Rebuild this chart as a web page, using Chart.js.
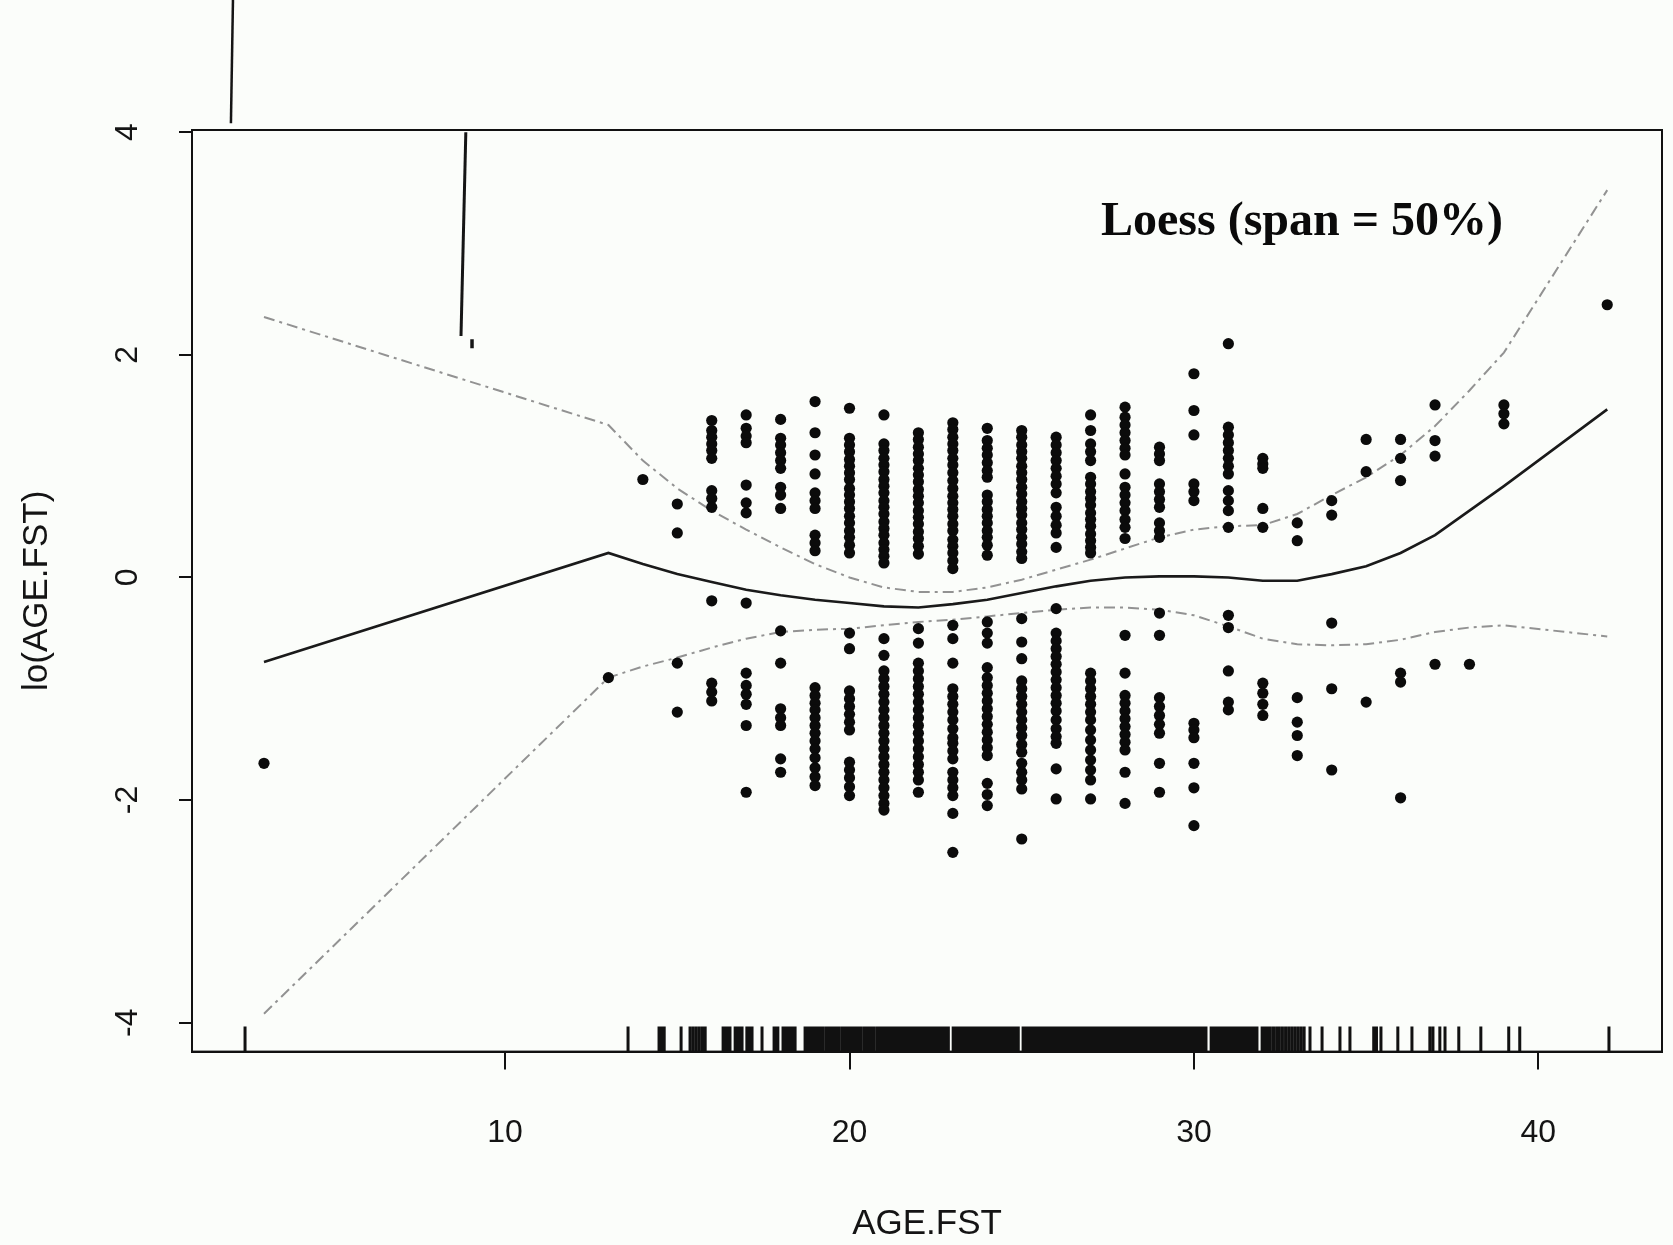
<!DOCTYPE html>
<html lang="en">
<head>
<meta charset="UTF-8">
<title>Loess (span = 50%)</title>
<script src="https://cdn.jsdelivr.net/npm/chart.js@4.4.1/dist/chart.umd.min.js"></script>
<style>
  html, body { margin: 0; padding: 0; background: #fbfdfa; }
  #wrap { width: 1673px; height: 1245px; }
</style>
</head>
<body>
<div id="wrap"><canvas id="myChart" width="1673" height="1245"></canvas></div>
<script>
// ages that carry observations (the loess curve and bands are evaluated at these too)
const ageLevels = [3, 13, 14, 15, 16, 17, 18, 19, 20, 21, 22, 23, 24, 25, 26, 27, 28, 29, 30, 31, 32, 33, 34, 35, 36, 37, 38, 39, 42];

// partial residuals, one list per age level
const residuals = [
  [-1.67],
  [-0.90],
  [0.88],
  [0.66, 0.40, -0.77, -1.21],
  [1.41, 1.32, 1.26, 1.20, 1.14, 1.07, 0.78, 0.71, 0.63, -0.21, -0.95, -1.03, -1.11],
  [1.46, 1.34, 1.27, 1.21, 0.83, 0.67, 0.58, -0.23, -0.86, -0.97, -1.05, -1.14, -1.33, -1.93],
  [1.42, 1.25, 1.19, 1.12, 1.05, 0.98, 0.81, 0.74, 0.62, -0.48, -0.77, -1.18, -1.26, -1.33, -1.63, -1.75],
  [1.58, 1.30, 1.10, 0.93, 0.76, 0.69, 0.62, 0.38, 0.31, 0.24, -0.99, -1.06, -1.13, -1.19, -1.26, -1.33, -1.40, -1.47, -1.54, -1.62, -1.71, -1.79, -1.87],
  [1.52, 1.25, 1.19, 1.13, 1.06, 1.00, 0.94, 0.88, 0.80, 0.74, 0.68, 0.62, 0.55, 0.49, 0.42, 0.36, 0.29, 0.22, -0.50, -0.64, -1.02, -1.09, -1.16, -1.23, -1.30, -1.37, -1.66, -1.73, -1.80, -1.88, -1.96],
  [1.46, 1.20, 1.14, 1.07, 1.01, 0.95, 0.88, 0.82, 0.76, 0.69, 0.63, 0.57, 0.50, 0.44, 0.38, 0.31, 0.25, 0.19, 0.13, -0.55, -0.70, -0.84, -0.91, -0.98, -1.05, -1.12, -1.19, -1.26, -1.33, -1.40, -1.47, -1.54, -1.61, -1.68, -1.75, -1.82, -1.89, -1.96, -2.03, -2.09],
  [1.30, 1.24, 1.17, 1.11, 1.05, 0.98, 0.92, 0.86, 0.79, 0.73, 0.67, 0.60, 0.54, 0.48, 0.41, 0.35, 0.28, 0.21, -0.46, -0.59, -0.77, -0.84, -0.91, -0.98, -1.05, -1.12, -1.19, -1.26, -1.33, -1.40, -1.47, -1.54, -1.61, -1.68, -1.75, -1.82, -1.93],
  [1.39, 1.33, 1.26, 1.20, 1.14, 1.07, 1.01, 0.94, 0.87, 0.80, 0.73, 0.67, 0.61, 0.55, 0.48, 0.42, 0.34, 0.28, 0.22, 0.15, 0.08, -0.43, -0.55, -0.77, -1.00, -1.07, -1.14, -1.21, -1.28, -1.36, -1.44, -1.49, -1.56, -1.63, -1.75, -1.82, -1.89, -1.96, -2.12, -2.47],
  [1.34, 1.23, 1.16, 1.10, 1.03, 0.96, 0.90, 0.74, 0.68, 0.61, 0.55, 0.49, 0.42, 0.36, 0.29, 0.20, -0.40, -0.50, -0.59, -0.81, -0.90, -0.97, -1.04, -1.11, -1.18, -1.25, -1.32, -1.39, -1.46, -1.53, -1.60, -1.85, -1.95, -2.05],
  [1.32, 1.26, 1.19, 1.13, 1.07, 1.00, 0.94, 0.88, 0.81, 0.75, 0.68, 0.62, 0.56, 0.49, 0.43, 0.36, 0.30, 0.23, 0.17, -0.37, -0.58, -0.73, -0.93, -1.00, -1.07, -1.14, -1.21, -1.28, -1.35, -1.42, -1.50, -1.57, -1.67, -1.75, -1.82, -1.90, -2.35],
  [1.26, 1.19, 1.12, 1.05, 0.98, 0.91, 0.84, 0.76, 0.63, 0.55, 0.47, 0.40, 0.27, -0.28, -0.50, -0.57, -0.64, -0.71, -0.78, -0.85, -0.92, -0.99, -1.06, -1.13, -1.20, -1.28, -1.36, -1.43, -1.49, -1.72, -1.99],
  [1.46, 1.32, 1.20, 1.13, 1.05, 0.90, 0.84, 0.77, 0.71, 0.65, 0.58, 0.52, 0.46, 0.39, 0.33, 0.27, 0.22, -0.86, -0.93, -1.00, -1.07, -1.14, -1.21, -1.28, -1.37, -1.46, -1.55, -1.64, -1.73, -1.82, -1.99],
  [1.53, 1.44, 1.37, 1.30, 1.23, 1.16, 1.10, 0.93, 0.81, 0.74, 0.67, 0.60, 0.52, 0.45, 0.35, -0.52, -0.86, -1.06, -1.13, -1.20, -1.27, -1.34, -1.41, -1.48, -1.55, -1.75, -2.03],
  [1.17, 1.11, 1.05, 0.84, 0.77, 0.70, 0.63, 0.49, 0.42, 0.36, -0.32, -0.52, -1.08, -1.16, -1.24, -1.32, -1.40, -1.67, -1.93],
  [1.83, 1.50, 1.28, 0.84, 0.77, 0.69, -1.31, -1.37, -1.44, -1.67, -1.89, -2.23],
  [2.10, 1.35, 1.28, 1.21, 1.14, 1.07, 1.00, 0.93, 0.78, 0.69, 0.60, 0.45, -0.34, -0.45, -0.84, -1.12, -1.19],
  [1.07, 1.02, 0.98, 0.62, 0.45, -0.95, -1.04, -1.14, -1.24],
  [0.49, 0.33, -1.08, -1.30, -1.42, -1.60],
  [0.69, 0.56, -0.41, -1.00, -1.73],
  [1.24, 0.95, -1.12],
  [1.24, 1.07, 0.87, -0.86, -0.94, -1.98],
  [1.55, 1.23, 1.09, -0.78],
  [-0.78],
  [1.55, 1.47, 1.38],
  [2.45]
];

// loess fit and its pointwise bands at the same ages
const fitLine   = [-0.76, 0.22, 0.12, 0.03, -0.04, -0.11, -0.16, -0.20, -0.23, -0.26, -0.27, -0.24, -0.20, -0.14, -0.08, -0.03, 0.00, 0.01, 0.01, 0.00, -0.03, -0.03, 0.03, 0.10, 0.22, 0.38, 0.60, 0.82, 1.51];
const upperBand = [2.34, 1.37, 1.05, 0.80, 0.60, 0.43, 0.27, 0.12, 0.00, -0.09, -0.13, -0.13, -0.09, -0.02, 0.07, 0.16, 0.26, 0.36, 0.43, 0.46, 0.47, 0.57, 0.74, 0.90, 1.10, 1.36, 1.68, 2.02, 3.48];
const lowerBand = [-3.92, -0.90, -0.80, -0.72, -0.63, -0.55, -0.49, -0.47, -0.46, -0.43, -0.40, -0.38, -0.35, -0.32, -0.29, -0.27, -0.27, -0.29, -0.34, -0.44, -0.55, -0.60, -0.61, -0.60, -0.56, -0.49, -0.45, -0.43, -0.53];

// jittered AGE.FST values shown as the rug
const rugAges = [
  2.45, 13.57, 14.47, 14.54, 14.62, 15.11, 15.37, 15.46, 15.55, 15.64, 15.73, 15.81,
  16.33, 16.41, 16.48, 16.53, 16.68, 16.76, 16.83, 16.88, 17.02, 17.09, 17.17, 17.46,
  17.81, 17.87, 17.92, 18.07, 18.13, 18.2, 18.27, 18.35, 18.42, 18.71, 18.78, 18.86,
  18.93, 19.01, 19.08, 19.16, 19.23, 19.32, 19.4, 19.47, 19.55, 19.63, 19.7, 19.79,
  19.86, 19.94, 20.01, 20.09, 20.17, 20.24, 20.32, 20.41, 20.48, 20.56, 20.63, 20.71,
  20.8, 20.87, 20.95, 21.02, 21.1, 21.18, 21.26, 21.33, 21.41, 21.49, 21.56, 21.64,
  21.72, 21.79, 21.87, 21.95, 22.03, 22.1, 22.18, 22.26, 22.33, 22.41, 22.49, 22.57,
  22.64, 22.72, 22.8, 22.87, 23.01, 23.08, 23.15, 23.22, 23.29, 23.36, 23.43, 23.51,
  23.58, 23.66, 23.74, 23.82, 23.9, 23.97, 24.05, 24.13, 24.21, 24.29, 24.36, 24.44,
  24.52, 24.6, 24.68, 24.76, 24.83, 24.9, 25.04, 25.12, 25.2, 25.28, 25.36, 25.43,
  25.51, 25.59, 25.67, 25.75, 25.82, 25.9, 25.98, 26.06, 26.14, 26.21, 26.29, 26.37,
  26.45, 26.53, 26.6, 26.68, 26.76, 26.84, 26.92, 26.99, 27.07, 27.15, 27.23, 27.31,
  27.38, 27.46, 27.54, 27.62, 27.7, 27.77, 27.85, 27.93, 28.01, 28.09, 28.16, 28.24,
  28.32, 28.4, 28.48, 28.55, 28.63, 28.71, 28.79, 28.87, 28.94, 29.02, 29.1, 29.18,
  29.26, 29.33, 29.41, 29.49, 29.57, 29.65, 29.72, 29.8, 29.88, 29.96, 30.04, 30.11,
  30.19, 30.27, 30.35, 30.5, 30.58, 30.66, 30.74, 30.82, 30.89, 30.97, 31.05, 31.13,
  31.21, 31.28, 31.36, 31.44, 31.52, 31.6, 31.67, 31.75, 31.83, 31.98, 32.06, 32.14,
  32.22, 32.31, 32.4, 32.48, 32.57, 32.66, 32.75, 32.84, 32.93, 33.02, 33.11, 33.2,
  33.37, 33.72, 34.24, 34.53, 35.22, 35.3, 35.43, 35.92, 36.33, 36.85, 36.94, 37.14,
  37.29, 37.69, 38.33, 39.14, 39.46, 42.05
];

// stray pen strokes on the scanned page (in data units)
const strokeInX = [8.86, 8.72];
const strokeInY = [4.0, 2.17];
const dashInX = [9.04, 9.04];
const dashInY = [2.14, 2.06];
const strokeOutX = [2.10, 2.04];
const strokeOutY = [5.2, 4.08];

const xTicks = [10, 20, 30, 40];
const yTicks = [-4, -2, 0, 2, 4];
const xTitle = 'AGE.FST';
const yTitle = 'lo(AGE.FST)';
const fitLabel = 'Loess (span = 50%)';

const pointData = [];
ageLevels.forEach((a, i) => residuals[i].forEach(r => pointData.push({ x: a, y: r })));
const onAges = vals => ageLevels.map((a, i) => ({ x: a, y: vals[i] }));
const pairUp = (xs, ys) => xs.map((x, i) => ({ x: x, y: ys[i] }));

const rPlot = {
  id: 'rPlot',
  beforeDraw(chart) {
    const ctx = chart.ctx;
    ctx.save();
    ctx.fillStyle = '#fbfdfa';
    ctx.fillRect(0, 0, chart.width, chart.height);
    ctx.restore();
  },
  afterDatasetsDraw(chart) {
    const ctx = chart.ctx;
    const xs = chart.scales.x;
    const bottom = chart.chartArea.bottom;
    ctx.save();
    ctx.strokeStyle = '#111';
    ctx.lineWidth = 3;
    ctx.beginPath();
    rugAges.forEach(v => {
      const px = xs.getPixelForValue(v);
      ctx.moveTo(px, bottom);
      ctx.lineTo(px, bottom - 25);
    });
    ctx.stroke();
    ctx.restore();
  },
  afterDraw(chart) {
    const ctx = chart.ctx;
    const a = chart.chartArea;
    ctx.save();
    // box round the plot
    ctx.strokeStyle = '#111';
    ctx.lineWidth = 2;
    ctx.strokeRect(a.left, a.top, a.right - a.left, a.bottom - a.top);
    // y tick labels, turned like R draws them
    ctx.fillStyle = '#141414';
    ctx.font = '32px "Liberation Sans", Arial, sans-serif';
    ctx.textAlign = 'center';
    ctx.textBaseline = 'middle';
    yTicks.forEach(v => {
      const py = chart.scales.y.getPixelForValue(v);
      ctx.save();
      ctx.translate(a.left - 64, py);
      ctx.rotate(-Math.PI / 2);
      ctx.fillText(String(v), 0, 0);
      ctx.restore();
    });
    // label of the smoother
    ctx.fillStyle = '#0a0a0a';
    ctx.font = 'bold 48px "Liberation Serif", "Times New Roman", serif';
    ctx.textAlign = 'left';
    ctx.textBaseline = 'alphabetic';
    ctx.fillText(fitLabel, a.left + 909, a.top + 105);
    ctx.restore();
  }
};

const ctx = document.getElementById('myChart').getContext('2d');
const myChart = new Chart(ctx, {
  type: 'scatter',
  data: {
    datasets: [
      {
        label: 'partial residuals',
        data: pointData,
        pointRadius: 5.6,
        pointBackgroundColor: '#0b0b0b',
        pointBorderWidth: 0,
        showLine: false
      },
      {
        label: 'loess',
        data: onAges(fitLine),
        showLine: true,
        borderColor: '#1a1a1a',
        borderWidth: 2.6,
        pointRadius: 0,
        tension: 0
      },
      {
        label: 'upper band',
        data: onAges(upperBand),
        showLine: true,
        borderColor: '#929292',
        borderWidth: 2,
        borderDash: [11, 5, 3, 5],
        pointRadius: 0
      },
      {
        label: 'lower band',
        data: onAges(lowerBand),
        showLine: true,
        borderColor: '#929292',
        borderWidth: 2,
        borderDash: [11, 5, 3, 5],
        pointRadius: 0
      },
      {
        label: 'stroke',
        data: pairUp(strokeInX, strokeInY),
        showLine: true,
        borderColor: '#151515',
        borderWidth: 3,
        pointRadius: 0
      },
      {
        label: 'dash',
        data: pairUp(dashInX, dashInY),
        showLine: true,
        borderColor: '#151515',
        borderWidth: 3.5,
        pointRadius: 0
      },
      {
        label: 'stroke outside',
        data: pairUp(strokeOutX, strokeOutY),
        showLine: true,
        borderColor: '#151515',
        borderWidth: 2.5,
        pointRadius: 0,
        clip: false
      }
    ]
  },
  options: {
    responsive: false,
    animation: false,
    devicePixelRatio: 1,
    layout: { padding: { top: 130, right: 11, bottom: 0, left: 0 } },
    plugins: {
      legend: { display: false },
      tooltip: { enabled: false }
    },
    scales: {
      x: {
        type: 'linear',
        min: 0.91,
        max: 43.59,
        afterFit: s => { s.height = 193.4; },
        afterBuildTicks: s => { s.ticks = xTicks.map(v => ({ value: v })); },
        grid: { drawOnChartArea: false, drawTicks: true, tickLength: 18, color: '#111', lineWidth: 2 },
        border: { display: true, color: '#111', width: 2 },
        ticks: {
          color: '#141414',
          padding: 44,
          maxRotation: 0,
          font: { family: '"Liberation Sans", Arial, sans-serif', size: 32 }
        },
        title: {
          display: true,
          text: xTitle,
          color: '#141414',
          padding: { top: 0, bottom: 0 },
          font: { family: '"Liberation Sans", Arial, sans-serif', size: 35 }
        }
      },
      y: {
        type: 'linear',
        min: -4.26,
        max: 4.02,
        afterFit: s => { s.width = 192; },
        afterBuildTicks: s => { s.ticks = yTicks.map(v => ({ value: v })); },
        grid: { drawOnChartArea: false, drawTicks: true, tickLength: 13, color: '#111', lineWidth: 2 },
        border: { display: true, color: '#111', width: 2 },
        ticks: {
          color: 'rgba(0,0,0,0)',
          font: { family: '"Liberation Sans", Arial, sans-serif', size: 32 }
        },
        title: {
          display: true,
          text: yTitle,
          color: '#141414',
          padding: { top: 16, bottom: 0 },
          font: { family: '"Liberation Sans", Arial, sans-serif', size: 35 }
        }
      }
    }
  },
  plugins: [rPlot]
});
</script>
</body>
</html>
